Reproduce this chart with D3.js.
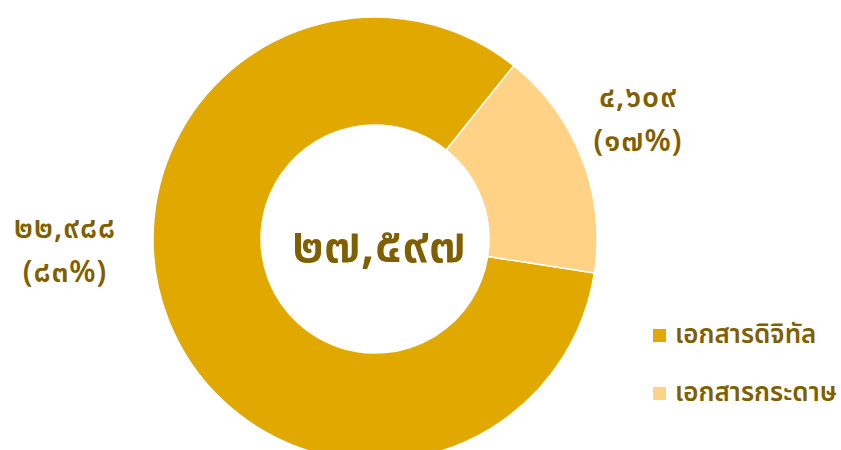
<!DOCTYPE html>
<html>
<head>
<meta charset="utf-8">
<script src="https://cdn.jsdelivr.net/npm/d3@7"></script>
<style>
  body { margin: 0; background: #fff; }
  svg text { font-family: "Noto Sans", "Noto Sans Thai", sans-serif; font-weight: 600; }
</style>
</head>
<body>
<div id="vis"></div>
<script>
// Frame
const FRAME_WIDTH = 841;
const FRAME_HEIGHT = 450;
const CENTER = {x: 375, y: 239};
const OUTER_R = 222;
const INNER_R = 114;
const TEXT_COLOR = "#7F5F00";

// Data
const categories = ["เอกสารดิจิทัล", "เอกสารกระดาษ"];
const values = [22988, 4609];
const valueLabels = ["๒๒,๙๘๘", "๔,๖๐๙"];
const pctLabels = ["(๘๓%)", "(๑๗%)"];
const totalLabel = "๒๗,๕๙๗";
const colors = ["#E1A900", "#FFD285"];

const FRAME = d3.select("#vis")
    .append("svg")
      .attr("width", FRAME_WIDTH)
      .attr("height", FRAME_HEIGHT);

const color = d3.scaleOrdinal().domain(categories).range(colors);

// start so the small slice sits at the upper right
const START = 98.8 * Math.PI / 180;
const pie = d3.pie()
    .sort(null)
    .value((d, i) => values[i])
    .startAngle(START)
    .endAngle(START + 2 * Math.PI);

const arc = d3.arc().innerRadius(INNER_R).outerRadius(OUTER_R);

const g = FRAME.append("g")
    .attr("transform", "translate(" + CENTER.x + "," + CENTER.y + ")");

g.selectAll("path")
  .data(pie(categories))
  .enter()
  .append("path")
    .attr("d", arc)
    .attr("fill", (d) => color(d.data))
    .attr("stroke", "#fff")
    .attr("stroke-width", 1.5);

// centre total
g.append("text")
    .attr("x", 4)
    .attr("y", 23)
    .attr("text-anchor", "middle")
    .attr("fill", TEXT_COLOR)
    .style("font-size", "50px")
    .text(totalLabel);

// slice labels (placed outside)
const labelPos = [{x: 65, y: 238}, {x: 638, y: 107}];
labelPos.forEach((p, i) => {
  FRAME.append("text")
      .attr("x", p.x)
      .attr("y", p.y)
      .attr("text-anchor", "middle")
      .attr("fill", TEXT_COLOR)
      .style("font-size", "30px")
      .style("letter-spacing", "1px")
      .text(valueLabels[i]);
  FRAME.append("text")
      .attr("x", p.x)
      .attr("y", p.y + 44)
      .attr("text-anchor", "middle")
      .attr("fill", TEXT_COLOR)
      .style("font-size", "30px")
      .style("letter-spacing", "1px")
      .text(pctLabels[i]);
});

// legend
const legend = FRAME.append("g")
    .attr("transform", "translate(653,329)");
const item = legend.selectAll("g")
  .data(categories)
  .enter()
  .append("g")
    .attr("transform", (d, i) => "translate(0," + (i * 58) + ")");
item.append("rect")
    .attr("width", 13)
    .attr("height", 13)
    .attr("fill", (d) => color(d));
item.append("text")
    .attr("x", 22)
    .attr("y", 14)
    .attr("fill", TEXT_COLOR)
    .style("font-size", "26px")
    .text((d) => d);
</script>
</body>
</html>
